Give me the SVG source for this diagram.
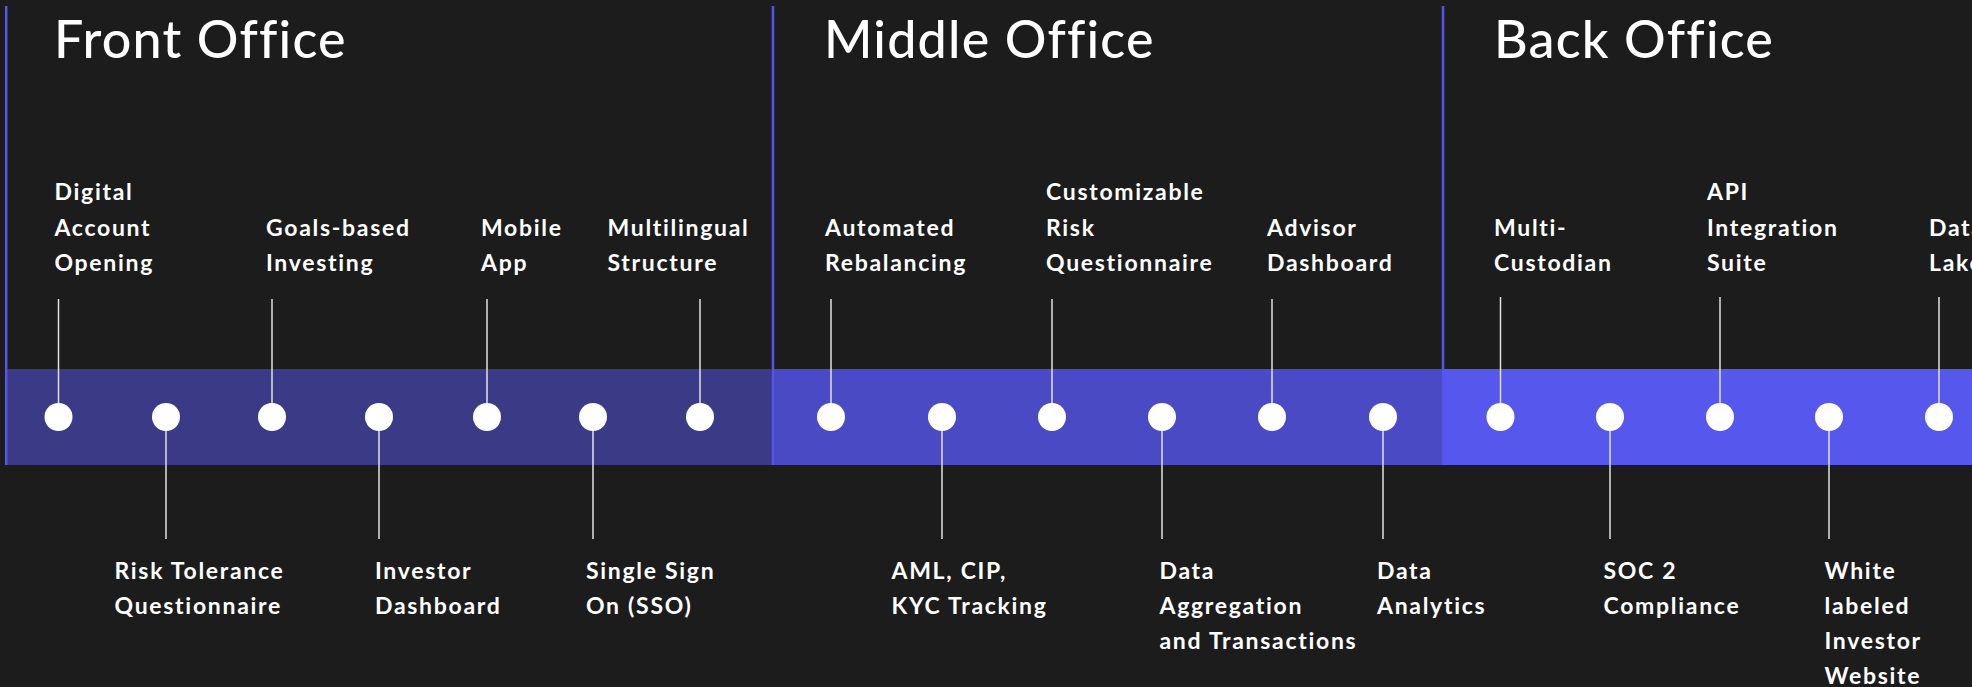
<svg xmlns="http://www.w3.org/2000/svg" width="1972" height="687" viewBox="0 0 1972 687">
<style>
.bg{fill:#1c1c1c}
.hd{font-family:Lato,"Noto Sans","Liberation Sans",sans-serif;font-size:52px;font-weight:500;fill:#ffffff;letter-spacing:1.2px}
.lb{font-family:Lato,"Noto Sans","Liberation Sans",sans-serif;font-size:23px;font-weight:700;fill:#ffffff;letter-spacing:1.7px}
.dot{fill:#ffffff}
.div{stroke:#5356e6;stroke-width:2.5}
.con line{stroke:#e2e2e2;stroke-width:1.5}
</style>
<rect class="bg" x="0" y="0" width="1972" height="687"/>
<g id="bands">
<rect x="6" y="369" width="766" height="96" fill="#3b3a87"/>
<rect x="772" y="369" width="670" height="96" fill="#4a4ac4"/>
<rect x="1442" y="369" width="530" height="96" fill="#5657ec"/>
</g>
<g id="dividers">
<line class="div" x1="6.2" y1="6" x2="6.2" y2="465"/>
<line class="div" x1="773" y1="6" x2="773" y2="465"/>
<line class="div" x1="1443" y1="6" x2="1443" y2="465"/>
</g>
<g id="headings">
<text id="front-office" class="hd" x="54" y="58">Front Office</text>
<text id="middle-office" class="hd" x="824" y="58">Middle Office</text>
<text id="back-office" class="hd" x="1494" y="58">Back Office</text>
</g>
<g id="connectors" class="con">
<line x1="58.5" y1="299" x2="58.5" y2="405"/>
<line x1="166" y1="430" x2="166" y2="539"/>
<line x1="272" y1="299" x2="272" y2="405"/>
<line x1="379" y1="430" x2="379" y2="539"/>
<line x1="487" y1="299" x2="487" y2="405"/>
<line x1="593" y1="430" x2="593" y2="539"/>
<line x1="700" y1="299" x2="700" y2="405"/>
<line x1="831" y1="299" x2="831" y2="405"/>
<line x1="942" y1="430" x2="942" y2="539"/>
<line x1="1052" y1="299" x2="1052" y2="405"/>
<line x1="1162" y1="430" x2="1162" y2="539"/>
<line x1="1272" y1="299" x2="1272" y2="405"/>
<line x1="1383" y1="430" x2="1383" y2="539"/>
<line x1="1500.5" y1="297" x2="1500.5" y2="405"/>
<line x1="1610" y1="430" x2="1610" y2="539"/>
<line x1="1720" y1="297" x2="1720" y2="405"/>
<line x1="1829" y1="430" x2="1829" y2="539"/>
<line x1="1939" y1="297" x2="1939" y2="405"/>
</g>
<g id="n-digital-account"><circle class="dot" cx="58.5" cy="417" r="14"/><text class="lb" x="54.5"><tspan x="54.5" y="200">Digital</tspan><tspan x="54.5" y="235.5">Account</tspan><tspan x="54.5" y="271">Opening</tspan></text></g>
<g id="n-risk-tolerance"><circle class="dot" cx="166" cy="417" r="14"/><text class="lb"><tspan x="114.5" y="579">Risk Tolerance</tspan><tspan x="114.5" y="614">Questionnaire</tspan></text></g>
<g id="n-goals"><circle class="dot" cx="272" cy="417" r="14"/><text class="lb"><tspan x="266" y="235.5">Goals-based</tspan><tspan x="266" y="271">Investing</tspan></text></g>
<g id="n-investor-dashboard"><circle class="dot" cx="379" cy="417" r="14"/><text class="lb"><tspan x="375" y="579">Investor</tspan><tspan x="375" y="614">Dashboard</tspan></text></g>
<g id="n-mobile"><circle class="dot" cx="487" cy="417" r="14"/><text class="lb"><tspan x="481" y="235.5">Mobile</tspan><tspan x="481" y="271">App</tspan></text></g>
<g id="n-sso"><circle class="dot" cx="593" cy="417" r="14"/><text class="lb"><tspan x="586" y="579">Single Sign</tspan><tspan x="586" y="614">On (SSO)</tspan></text></g>
<g id="n-multilingual"><circle class="dot" cx="700" cy="417" r="14"/><text class="lb"><tspan x="607.5" y="235.5">Multilingual</tspan><tspan x="607.5" y="271">Structure</tspan></text></g>
<g id="n-rebalancing"><circle class="dot" cx="831" cy="417" r="14"/><text class="lb"><tspan x="825" y="235.5">Automated</tspan><tspan x="825" y="271">Rebalancing</tspan></text></g>
<g id="n-aml"><circle class="dot" cx="942" cy="417" r="14"/><text class="lb"><tspan x="891.5" y="579">AML, CIP,</tspan><tspan x="891.5" y="614">KYC Tracking</tspan></text></g>
<g id="n-custom-risk"><circle class="dot" cx="1052" cy="417" r="14"/><text class="lb"><tspan x="1046" y="200">Customizable</tspan><tspan x="1046" y="235.5">Risk</tspan><tspan x="1046" y="271">Questionnaire</tspan></text></g>
<g id="n-data-aggregation"><circle class="dot" cx="1162" cy="417" r="14"/><text class="lb"><tspan x="1159.5" y="579">Data</tspan><tspan x="1159.5" y="614">Aggregation</tspan><tspan x="1159.5" y="649">and Transactions</tspan></text></g>
<g id="n-advisor"><circle class="dot" cx="1272" cy="417" r="14"/><text class="lb"><tspan x="1267" y="235.5">Advisor</tspan><tspan x="1267" y="271">Dashboard</tspan></text></g>
<g id="n-analytics"><circle class="dot" cx="1383" cy="417" r="14"/><text class="lb"><tspan x="1377" y="579">Data</tspan><tspan x="1377" y="614">Analytics</tspan></text></g>
<g id="n-multi-custodian"><circle class="dot" cx="1500.5" cy="417" r="14"/><text class="lb"><tspan x="1494" y="235.5">Multi-</tspan><tspan x="1494" y="271">Custodian</tspan></text></g>
<g id="n-soc2"><circle class="dot" cx="1610" cy="417" r="14"/><text class="lb"><tspan x="1603.5" y="579">SOC 2</tspan><tspan x="1603.5" y="614">Compliance</tspan></text></g>
<g id="n-api"><circle class="dot" cx="1720" cy="417" r="14"/><text class="lb"><tspan x="1707" y="200">API</tspan><tspan x="1707" y="235.5">Integration</tspan><tspan x="1707" y="271">Suite</tspan></text></g>
<g id="n-white-label"><circle class="dot" cx="1829" cy="417" r="14"/><text class="lb"><tspan x="1824.5" y="579">White</tspan><tspan x="1824.5" y="614">labeled</tspan><tspan x="1824.5" y="649">Investor</tspan><tspan x="1824.5" y="684">Website</tspan></text></g>
<g id="n-data-lake"><circle class="dot" cx="1939" cy="417" r="14"/><text class="lb"><tspan x="1929" y="235.5">Data</tspan><tspan x="1929" y="271">Lake</tspan></text></g>
</svg>
